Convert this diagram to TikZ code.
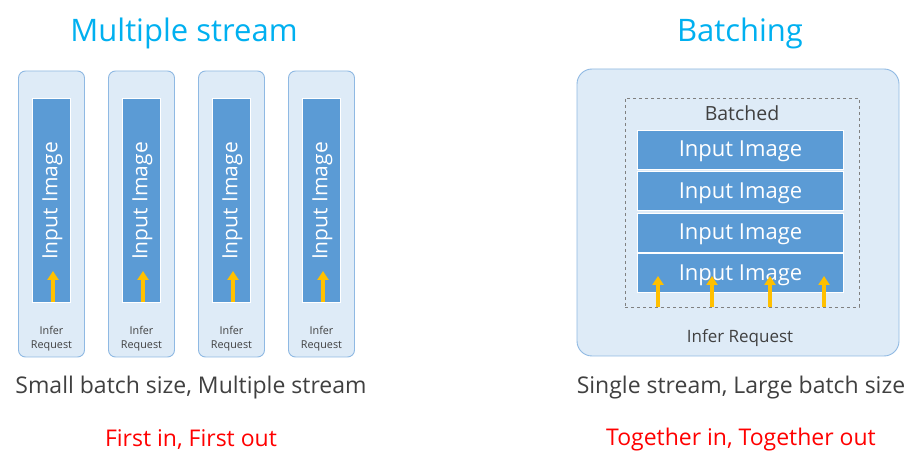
\documentclass[tikz,border=0pt]{standalone}
\usepackage{fontspec}
\setmainfont{Open Sans}
\usetikzlibrary{arrows.meta}
\definecolor{titlecyan}{HTML}{00B0F0}
\definecolor{imgblue}{HTML}{5B9BD5}
\definecolor{outerfill}{HTML}{DEEBF7}
\definecolor{outerline}{HTML}{8FB9E3}
\definecolor{arrowgold}{HTML}{FFC000}
\definecolor{txtgray}{HTML}{404040}
\tikzset{
  outerbox/.style={draw=outerline, fill=outerfill, line width=0.9pt, rounded corners=7pt},
  imgbox/.style={fill=imgblue, draw=white, line width=0.8pt, text=white, inner sep=0pt},
  goldarrow/.style={draw=arrowgold, line width=3.6pt, -{Triangle[width=11pt,length=9pt]}},
  titletxt/.style={text=titlecyan, font=\fontsize{31}{35}\selectfont},
  captxt/.style={text=txtgray, font=\fontsize{23}{27}\selectfont},
  redtxt/.style={text=red, font=\fontsize{23}{27}\selectfont},
}
\begin{document}
\begin{tikzpicture}[x=1pt,y=-1pt]
\useasboundingbox[fill=white] (0,0) rectangle (924,470);
% titles
\node[titletxt] (t1) at (184,33) {Multiple stream};
\node[titletxt] (t2) at (740,33) {Batching};
% left columns
\foreach \i/\x in {1/51.5,2/141.5,3/231.5,4/321.5}{
  \node[outerbox, minimum width=66pt, minimum height=286pt] (col\i) at (\x,214) {};
  \node[imgbox, minimum width=38pt, minimum height=204pt] (img\i) at (\x,200) {};
  \node[text=white, rotate=90, font=\fontsize{21}{24}\selectfont] (lab\i) at (\x+1,201) {Input Image};
  \node[text=txtgray, font=\fontsize{10.8}{14}\selectfont, align=center] (req\i) at (\x,338.5) {Infer\\Request};
  \coordinate (a\i) at (\x+1.5,302);
  \coordinate (b\i) at (\x+1.5,271);
  \draw[goldarrow] (a\i) -- (b\i);
}
% right
\node[outerbox, rounded corners=15pt, minimum width=322pt, minimum height=287pt] (big) at (738,212.5) {};
\node[draw=gray, dashed, line width=0.8pt, minimum width=234pt, minimum height=209pt, inner sep=0pt] (batch) at (742,202.5) {};
\node[text=txtgray, font=\fontsize{19.5}{22}\selectfont] (batched) at (742,113) {Batched};
\foreach \i/\y in {1/149.5,2/191,3/232.5,4/273}{
  \node[imgbox, minimum width=206pt, minimum height=39pt] (row\i) at (740.5,\y) {};
  \node[text=white, font=\fontsize{22}{25}\selectfont] (rowlab\i) at (740.5,\y+2) {Input Image};
}
\foreach \j/\x in {1/658,2/712,3/770,4/824}{
  \coordinate (c\j) at (\x,307);
  \coordinate (d\j) at (\x,276);
  \draw[goldarrow] (c\j) -- (d\j);
}
\node[text=txtgray, font=\fontsize{17}{20}\selectfont] (req) at (740,338) {Infer Request};
% captions
\node[captxt] (cap1) at (191,388) {Small batch size, Multiple stream};
\node[captxt] (cap2) at (741,388) {Single stream, Large batch size};
\node[redtxt] (red1) at (191,440) {First in, First out};
\node[redtxt] (red2) at (741,440) {Together in, Together out};
\end{tikzpicture}
\end{document}
